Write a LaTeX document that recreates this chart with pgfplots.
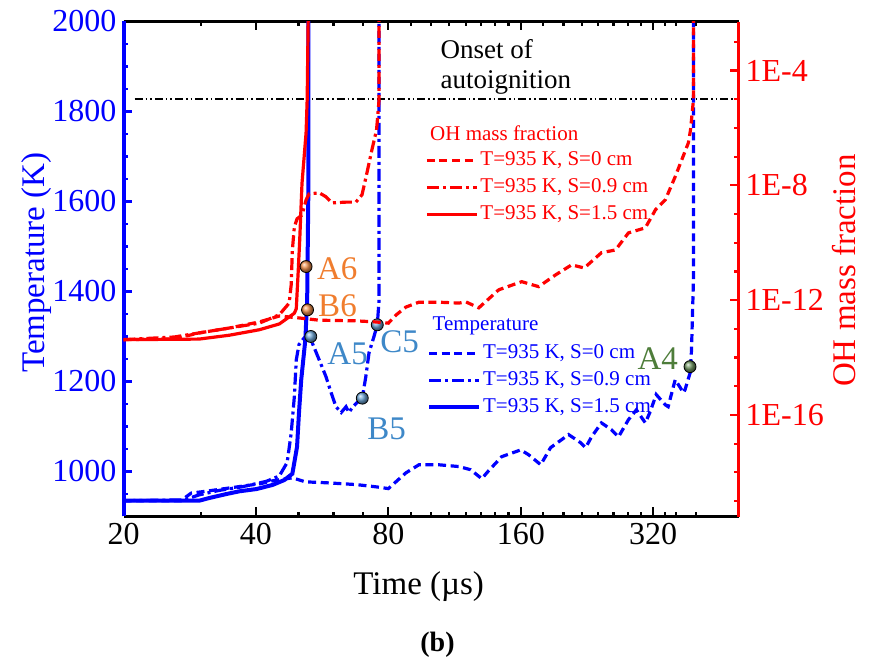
\documentclass[border=0pt]{standalone}
\usepackage{fontspec}
\setmainfont{Liberation Serif}
\usepackage{pgfplots}
\pgfplotsset{compat=1.18}
\definecolor{lblblue}{RGB}{62,136,200}
\definecolor{lblorange}{RGB}{240,125,46}
\definecolor{lblgreen}{RGB}{78,125,58}
\tikzset{
  dashA/.style={dash pattern=on 4pt off 2.3pt},
  dashdotA/.style={dash pattern=on 6pt off 2pt on 1.5pt off 2pt},
}
\newcommand{\tickfont}{\fontsize{16}{19}\selectfont}
\newcommand{\labfont}{\fontsize{16.5}{19}\selectfont}
\newcommand{\legfont}{\fontsize{10.5}{12}\selectfont}
\begin{document}
\begin{tikzpicture}
\useasboundingbox (-61.75pt,-73.75pt) rectangle (372.75pt,258.25pt);
% ---------------- Temperature axis ----------------
\begin{axis}[
  scale only axis, width=307.5pt, height=247.5pt,
  at={(0pt,0pt)}, anchor=south west,
  xmode=log, xmin=20, xmax=500,
  /pgf/number format/assume math mode=true,
  /pgf/number format/1000 sep={},
  major tick length=4.5pt, minor tick length=2.3pt,
  legend image code/.code={\draw[#1] (0pt,0pt) -- (25pt,0pt);},
  legend cell align=left,
  axis x line*=box, axis y line*=left,
  x axis line style={black, line width=1.8pt, -},
  y axis line style={blue, line width=2pt, -},
  xtick={20,40,80,160,320}, xticklabels={20,40,80,160,320},
  minor xtick={30,50,60,70,90,100,110,120,130,140,150,180,200,220,240,260,280,300,340,360,400},
  xtick style={black, line width=1.1pt},
  xticklabel style={font=\tickfont, black},
  ymin=900, ymax=2000,
  ytick={1000,1200,1400,1600,1800,2000},
  minor ytick={950,1050,1100,1150,1250,1300,1350,1450,1500,1550,1650,1700,1750,1850,1900,1950},
  ytick style={blue, line width=1.1pt},
  yticklabel style={font=\tickfont, blue},
  xlabel={Time (µs)}, ylabel={Temperature (K)},
  every axis x label/.style={at={(axis description cs:0.48,-0.142)}, anchor=center, font=\labfont},
  every axis y label/.style={at={(axis description cs:-0.142,0.513)}, anchor=center, rotate=90, font=\labfont, blue},
  legend style={at={(0.493,0.355)}, anchor=north west, draw=none, fill=none,
     font=\legfont, text=blue, inner sep=0pt, row sep=1.5pt,
     nodes={inner sep=1pt, text height=7.5pt, text depth=2.5pt}},
]
\addplot[black, line width=0.75pt, dash pattern=on 4pt off 1.5pt on 0.8pt off 1.5pt on 0.8pt off 1.5pt, forget plot]
  coordinates {(21.2,1828) (486,1828)};
% S=0 cm
\addplot[blue, line width=1.6pt, dashA] coordinates {
(20,935) (27,935) (28.5,952) (31.3,957) (34,962) (37,967) (41,973) (44,980) (47,984) (48.4,986)
(51.8,977) (57.7,975) (67.5,971) (74.9,966) (80,962) (83.2,977) (87.7,997) (93.9,1015)
(104,1015) (115.7,1011) (123,1004) (130.4,984) (135.3,1002) (144.8,1033) (160,1048)
(166.8,1037) (177.6,1015) (187,1053) (205.5,1082) (218.8,1064) (224.6,1053) (231.7,1077)
(244,1108) (257,1093) (266.8,1077) (281,1115) (293,1137) (307,1108) (315,1133) (325,1171)
(341,1148) (346,1144) (359,1204) (375,1175) (378,1182) (389,1222) (391,1271) (395,1426) (395,2050)};
\addlegendentry{T=935 K, S=0 cm}
% S=0.9 cm
\addplot[blue, line width=1.6pt, dashdotA] coordinates {
(20,935) (27.5,937) (29.7,948) (33,958) (37.2,966) (42.2,978) (45.2,990) (47.1,1020) (48.1,1085)
(48.9,1166) (49.4,1248) (50.1,1282) (51.5,1297) (53.3,1300) (53.7,1286) (55.7,1248) (57.7,1211)
(59.3,1175) (60.8,1144) (62.5,1131) (64.1,1144) (65.1,1131) (66.2,1142) (67.9,1153) (69.8,1163)
(71.1,1211) (72.3,1264) (74.2,1300) (75.5,1326) (76.2,1381) (76.2,2050)};
\addlegendentry{T=935 K, S=0.9 cm}
% S=1.5 cm
\addplot[blue, line width=2pt] coordinates {
(20,935) (29.7,935) (31.3,941) (34.3,950) (36.7,956) (40.1,961) (43.6,970) (46.4,981) (48.4,995)
(49.6,1055) (50.1,1130) (50.7,1204) (51.8,1293) (52.3,1381) (52.6,1604) (52.6,2050)};
\addlegendentry{T=935 K, S=1.5 cm}
% markers
\addplot[only marks, mark=ball, mark size=3pt, mark options={ball color=lblblue!75!white, draw=none}, forget plot]
  coordinates {(53.3,1300) (69.8,1163) (75.5,1326)};
\addplot[only marks, mark=ball, mark size=3pt, mark options={ball color=lblgreen!80!white, draw=none}, forget plot]
  coordinates {(388,1233)};
\end{axis}
% ---------------- OH axis ----------------
\begin{axis}[
  scale only axis, width=307.5pt, height=247.5pt,
  at={(0pt,0pt)}, anchor=south west,
  xmode=log, xmin=20, xmax=500,
  /pgf/number format/assume math mode=true,
  major tick length=4.5pt, minor tick length=2.3pt,
  legend image code/.code={\draw[#1] (0pt,0pt) -- (25pt,0pt);},
  legend cell align=left,
  axis y line*=right, axis x line=none,
  y axis line style={red, line width=1.6pt, -},
  ymode=log, ymin=2.9e-20, ymax=5.1e-3,
  ytick={1e-16,1e-12,1e-8,1e-4}, yticklabels={1E-16,1E-12,1E-8,1E-4},
  minor ytick={1e-19,1e-18,1e-17,1e-15,1e-14,1e-13,1e-11,1e-10,1e-9,1e-7,1e-6,1e-5,1e-3},
  ytick style={red, line width=1.1pt},
  yticklabel style={font=\tickfont, red},
  ylabel={OH mass fraction},
  every axis y label/.style={at={(axis description cs:1.172,0.497)}, anchor=center, rotate=90, font=\labfont, red},
  legend style={at={(0.49,0.745)}, anchor=north west, draw=none, fill=none,
     font=\legfont, text=red, inner sep=0pt, row sep=1.5pt,
     nodes={inner sep=1pt, text height=7.5pt, text depth=2.5pt}},
]
\addplot[red, line width=1.6pt, dashA] coordinates {
(20,4.2e-14) (26.1,4.5e-14) (29.7,7.2e-14) (34.8,1.07e-13) (40.7,1.74e-13) (45.2,2.8e-13)
(50.1,2.4e-13) (55.7,2.0e-13) (67.5,1.9e-13) (74.9,1.74e-13) (80,1.58e-13) (83.2,3.0e-13)
(87.7,5.75e-13) (93.9,8.5e-13) (104,8.5e-13) (115.7,7.9e-13) (120,8.7e-13) (128.4,5.4e-13)
(142.6,2.3e-12) (160.8,4.4e-12) (175.7,2.95e-12) (192,7.6e-12) (208.8,1.7e-11) (223,1.32e-11)
(244,4.5e-11) (262.7,5.6e-11) (281,2.2e-10) (307,3.3e-10) (323.8,1.41e-9) (341,3.16e-9)
(359,2.0e-8) (384.6,3.0e-7) (389,8.5e-7) (395,9.5e-6) (395,1e-2)};
\addlegendentry{T=935 K, S=0 cm}
\addplot[red, line width=1.6pt, dashdotA] coordinates {
(20,4.2e-14) (26.1,5.2e-14) (29.7,7.2e-14) (34.8,1.07e-13) (40.7,1.58e-13) (45.2,3.1e-13)
(47.6,7.9e-13) (48.1,3.4e-12) (48.4,5.6e-11) (48.9,3.5e-10) (49.6,6.8e-10) (50.9,9.3e-10)
(52.0,3.1e-9) (52.8,5.0e-9) (55.7,5.5e-9) (57.7,4.0e-9) (59.6,2.45e-9) (64.1,2.6e-9)
(67.5,2.6e-9) (69.7,4.7e-9) (71.5,2.7e-8) (73.4,1.74e-7) (75.2,8.5e-7) (76.2,9.5e-6) (76.2,1e-2)};
\addlegendentry{T=935 K, S=0.9 cm}
\addplot[red, line width=1.6pt] coordinates {
(20,4.2e-14) (29.7,4.4e-14) (34.8,6.0e-14) (40.7,9.3e-14) (45.2,1.48e-13) (47.6,2.6e-13)
(48.9,3.5e-13) (49.4,5.0e-13) (49.9,1.0e-11) (50.3,1.26e-10) (50.9,1.15e-8) (52.0,6.8e-7)
(52.3,9.5e-6) (52.6,1e-2)};
\addlegendentry{T=935 K, S=1.5 cm}
\addplot[only marks, mark=ball, mark size=3pt, mark options={ball color=lblorange!85!white, draw=none}, forget plot]
  coordinates {(52.0,1.48e-11) (52.4,4.6e-13)};
% annotations
\node[anchor=west, inner sep=0pt, font=\labfont, text=lblorange] at (rel axis cs:0.314,0.501) {A6};
\node[anchor=west, inner sep=0pt, font=\labfont, text=lblorange] at (rel axis cs:0.316,0.426) {B6};
\node[anchor=west, inner sep=0pt, font=\labfont, text=lblblue] at (rel axis cs:0.331,0.329) {A5};
\node[anchor=west, inner sep=0pt, font=\labfont, text=lblblue] at (rel axis cs:0.417,0.354) {C5};
\node[anchor=west, inner sep=0pt, font=\labfont, text=lblblue] at (rel axis cs:0.396,0.178) {B5};
\node[anchor=east, inner sep=0pt, font=\labfont, text=lblgreen] at (rel axis cs:0.902,0.319) {A4};
\node[anchor=west, inner sep=0pt, font=\legfont, text=red] at (rel axis cs:0.498,0.774) {OH mass fraction};
\node[anchor=west, inner sep=0pt, font=\legfont, text=blue] at (rel axis cs:0.502,0.386) {Temperature};
\node[anchor=base west, inner sep=0pt, font=\fontsize{13.5}{15}\selectfont] at (rel axis cs:0.515,0.925) {Onset of};
\node[anchor=base west, inner sep=0pt, font=\fontsize{13.5}{15}\selectfont] at (rel axis cs:0.515,0.865) {autoignition};
\end{axis}
\node[font=\fontsize{14}{15}\selectfont\bfseries] at (157pt,-64pt) {(b)};
\end{tikzpicture}
\end{document}
